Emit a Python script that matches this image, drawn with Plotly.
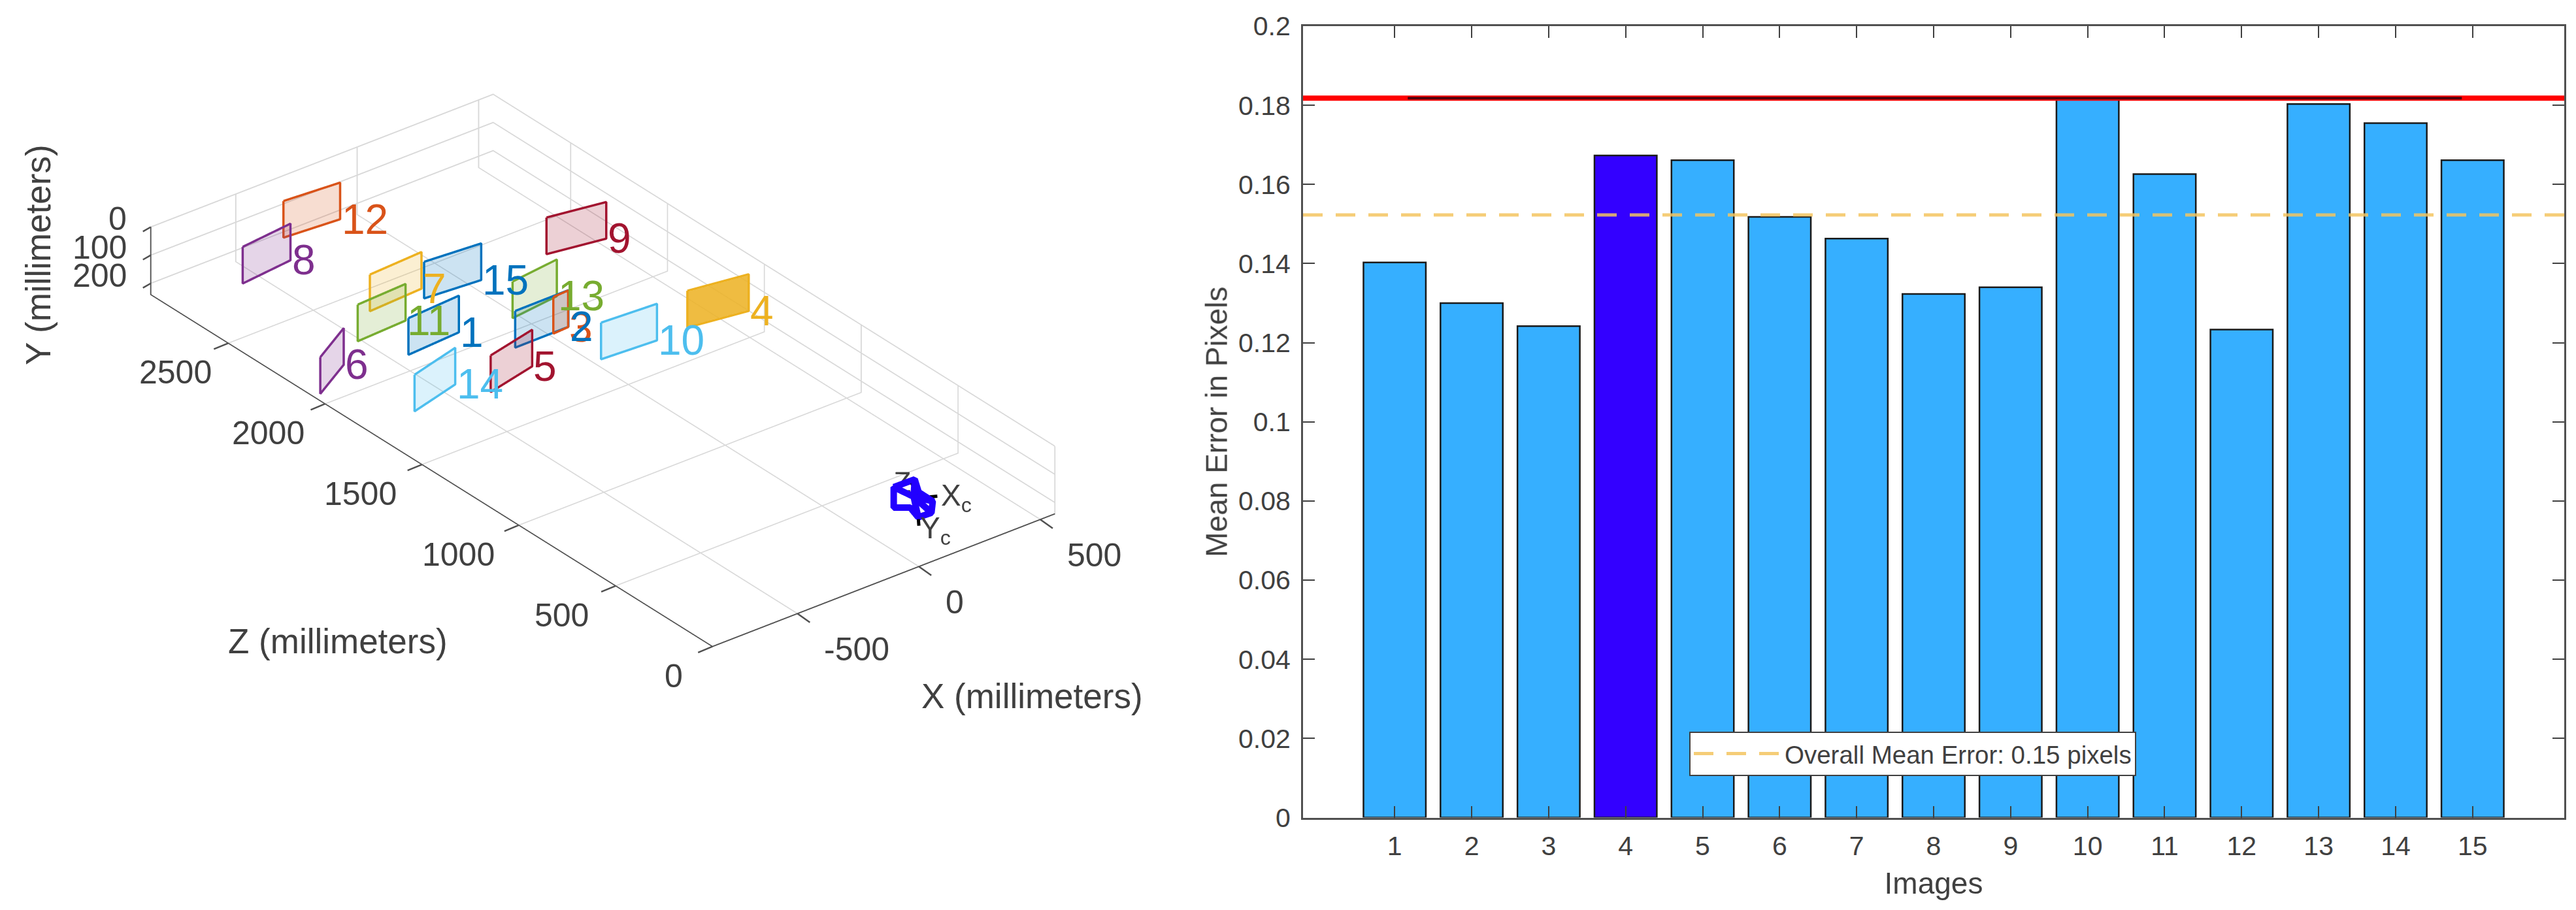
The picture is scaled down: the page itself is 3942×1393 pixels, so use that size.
import plotly.graph_objects as go

# ---------- right panel data ----------
images = list(range(1, 16))
mean_errors = [.1403, .1300, .1242, .1673, .1661, .1518, .1463, .1323, .1340, .1818, .1626, .1233, .1803, .1755, .1661]
overall_mean = 0.1523
selected_line = 0.1818
bar_colors = ["#36AFFF"] * 15
bar_colors[3] = "#3300FF"

# ---------- left panel data (mm) ----------
x_left = [-558, -257, -103, 263, -500, -849, -479, -690, 202, -86, -632, -400, -144, -772, -289]
z_left = [1936, 1762, 1758, 1525, 1584, 2026, 2234, 2626, 2176, 1533, 2105, 2779, 1917, 1636, 2192]
x_right = [-338, -37, -39, 486, -290, -671, -256, -474, 417, 133, -426, -181, 58, -559, -69]
z_right = [1951, 1763, 1762, 1488, 1633, 2128, 2247, 2650, 2137, 1519, 2116, 2761, 1942, 1693, 2173]
y_top = [6, 6, 6, 6, 6, 86, 6, 6, 6, 6, 6, 6, 6, 6, 6]
board_height = 130
board_colors = ["#0072BD", "#0072BD", "#D95319", "#EDB120", "#A2142F", "#7E2F8E", "#EDB120", "#7E2F8E",
                "#A2142F", "#4DBEEE", "#77AC30", "#D95319", "#77AC30", "#4DBEEE", "#0072BD"]
board_alpha = [.2, .2, .2, .85, .2, .2, .2, .2, .2, .2, .2, .2, .2, .2, .2]
label_order = [0, 2, 1, 3, 4, 5, 6, 7, 8, 9, 10, 11, 12, 13, 14]

cam_x = [98, 183, 141, 140, 90, 38, 57, 15, 98, 110, 90, 38, 110, 140, 110, 183]
cam_z = [253, 251, 178, 104, 48, 51, 116, 149, 253, 165, 48, 51, 165, 104, 165, 251]
cam_y = 100
axis_x = [118, 178, None, 118, 11, None, 118, 180]
axis_z = [159, 128, None, 159, 14, None, 159, 269]

x_range = [-850, 560]
z_range = [0, 2900]
y_range = [240, 0]
x_ticks = [-500, 0, 500]
z_ticks = [0, 500, 1000, 1500, 2000, 2500]
z_tick_dx = [-59, -83, -92, -94, -87, -81]
y_ticks = [0, 100, 200]

TXT = "#404040"
AXC = "#505050"
FONT = "Liberation Sans"
PAGE = 8  # default page margin of the written html


def fx(p):
    return (p - PAGE) / 3942


def fy(p):
    return 1 - (p - PAGE) / 1393


fig = go.Figure()

annots = []
for i in range(15):
    xs = [x_left[i], x_right[i], x_right[i], x_left[i]]
    zs = [z_left[i], z_right[i], z_right[i], z_left[i]]
    ys = [y_top[i], y_top[i], y_top[i] + board_height, y_top[i] + board_height]
    fig.add_trace(go.Mesh3d(x=xs, y=zs, z=ys, i=[0, 0], j=[1, 2], k=[2, 3], color=board_colors[i],
                            opacity=board_alpha[i], flatshading=True, showscale=False, hoverinfo="skip",
                            lighting=dict(ambient=1, diffuse=0, specular=0, roughness=1, fresnel=0)))
    fig.add_trace(go.Scatter3d(x=xs + xs[:1], y=zs + zs[:1], z=ys + ys[:1], mode="lines", showlegend=False,
                               line=dict(color=board_colors[i], width=7), hoverinfo="skip"))
for i in label_order:
    annots.append(dict(x=x_right[i], y=z_right[i], z=y_top[i] + board_height, text=str(i + 1), showarrow=False,
                       xanchor="left", yanchor="middle", font=dict(size=64, color=board_colors[i], family=FONT)))

fig.add_trace(go.Scatter3d(x=[171], y=[272], z=[130], mode="text", text=["Z<sub>c</sub>"], showlegend=False,
                           textposition="middle center", textfont=dict(size=44, color=TXT, family=FONT), hoverinfo="skip"))
fig.add_trace(go.Scatter3d(x=axis_x, y=axis_z, z=[cam_y + 5 if v is not None else None for v in axis_x], mode="lines",
                           line=dict(color="black", width=10), showlegend=False, hoverinfo="skip"))
fig.add_trace(go.Scatter3d(x=cam_x, y=cam_z, z=[cam_y] * len(cam_x), mode="lines",
                           line=dict(color="#2200FF", width=20), showlegend=False, hoverinfo="skip"))
for txt, xx, zz, xs_, ys_ in [("X<sub>c</sub>", 152, 128, 13, 0), ("Y<sub>c</sub>", -15, 14, 10, -5)]:
    annots.append(dict(x=xx, y=zz, z=cam_y, text=txt, showarrow=False, xanchor="left", yanchor="middle",
                       xshift=xs_, yshift=ys_, font=dict(size=46, color=TXT, family=FONT)))

TF = dict(size=50, color=TXT, family=FONT)
TICK = dict(text=" ", showarrow=True, arrowhead=0, arrowwidth=2.5, arrowcolor=AXC, standoff=0, startstandoff=0,
            font=dict(size=2))
for v in x_ticks:
    annots.append(dict(x=v, y=0, z=240, text=str(v), showarrow=False, xanchor="left", yanchor="middle",
                       xshift=39, yshift=-55, font=TF))
    annots.append(dict(TICK, x=v, y=0, z=240, ax=21, ay=15))
for v, dx in zip(z_ticks, z_tick_dx):
    annots.append(dict(x=-850, y=v, z=240, text=str(v), showarrow=False, xanchor="center", yanchor="middle",
                       xshift=dx, yshift=-45, font=TF))
    annots.append(dict(TICK, x=-850, y=v, z=240, ax=-24, ay=10))
for v in y_ticks:
    annots.append(dict(x=-850, y=2900, z=v, text=str(v), showarrow=False, xanchor="right", yanchor="middle",
                       xshift=-35, yshift=12, font=TF))
    annots.append(dict(TICK, x=-850, y=2900, z=v, ax=-14, ay=8))

ax3 = dict(showbackground=False, showline=True, linecolor=AXC, linewidth=4, ticks="",
           showticklabels=False, gridcolor="#D8D8D8", gridwidth=4,
           zeroline=False, showspikes=False, title=dict(text=""), tickmode="array")

fig.add_trace(go.Bar(x=images, y=mean_errors, width=0.81, marker=dict(color=bar_colors, line=dict(color="#1a1a1a", width=2.5)),
                     showlegend=False, xaxis="x", yaxis="y"))
fig.add_trace(go.Scatter(x=[-0.19, 16.19], y=[selected_line] * 2, mode="lines", line=dict(color="#FF0000", width=8),
                         showlegend=False, xaxis="x", yaxis="y"))
fig.add_trace(go.Scatter(x=[1.17, 14.86], y=[selected_line] * 2, mode="lines", line=dict(color="#50000A", width=4),
                         showlegend=False, xaxis="x", yaxis="y"))
fig.add_trace(go.Scatter(x=[-0.19, 16.19], y=[overall_mean] * 2, mode="lines", name="Overall Mean Error: 0.15 pixels",
                         line=dict(color="rgba(243,196,95,0.85)", width=5, dash="30px,20px"), xaxis="x", yaxis="y"))

paper_annots = [
    dict(text="Y (millimeters)", x=fx(58), y=fy(390), textangle=-90),
    dict(text="Z (millimeters)", x=fx(517), y=fy(981), textangle=0),
    dict(text="X (millimeters)", x=fx(1579), y=fy(1065), textangle=0),
]
for a in paper_annots:
    a.update(xref="paper", yref="paper", showarrow=False, xanchor="center", yanchor="middle",
             font=dict(size=53, color=TXT, family=FONT))

e = 2.0
k = 1.759
fig.update_layout(
    template="none",
    width=3942, height=1393, autosize=False, margin=dict(l=0, r=0, t=0, b=0, autoexpand=False),
    paper_bgcolor="white", plot_bgcolor="white", font=dict(family=FONT, color=TXT),
    scene=dict(
        domain=dict(x=[fx(8), fx(1837)], y=[fy(1126), fy(8)]),
        aspectmode="manual", aspectratio=dict(x=0.678 * k, y=1.414 * k, z=0.121 * k),
        camera=dict(projection=dict(type="orthographic"), up=dict(x=0, y=0, z=1), center=dict(x=0, y=0, z=0),
                    eye=dict(x=-0.538 * e, y=-0.684 * e, z=0.493 * e)),
        xaxis=dict(ax3, range=x_range, tickvals=x_ticks),
        yaxis=dict(ax3, range=z_range, tickvals=z_ticks),
        zaxis=dict(ax3, range=y_range, tickvals=y_ticks),
        annotations=annots,
    ),
    annotations=paper_annots,
    xaxis=dict(domain=[fx(1994), fx(3924)], range=[-0.19, 16.19], tickvals=images, ticks="inside", ticklen=18,
               tickwidth=2, tickcolor="#404040", mirror="ticks", showline=True, linecolor=AXC, linewidth=3,
               showgrid=False, zeroline=False, layer="above traces", tickfont=dict(size=41, color=TXT), automargin=False,
               ticklabelstandoff=5, title=dict(text="Images", font=dict(size=46, color=TXT), standoff=20), anchor="y"),
    yaxis=dict(domain=[fy(1251.5), fy(40)], range=[0, 0.2], tickvals=[i * 0.02 for i in range(11)],
               ticktext=["0", "0.02", "0.04", "0.06", "0.08", "0.1", "0.12", "0.14", "0.16", "0.18", "0.2"],
               ticks="inside", ticklen=18, tickwidth=2, tickcolor="#404040", mirror="ticks", showline=True,
               linecolor=AXC, linewidth=3, showgrid=False, zeroline=False, layer="above traces", automargin=False,
               ticklabelstandoff=8, tickfont=dict(size=41, color=TXT),
               title=dict(text="Mean Error in Pixels", font=dict(size=46, color=TXT), standoff=3), anchor="x"),
    legend=dict(x=fx(2585), y=fy(1120), xanchor="left", yanchor="top", bgcolor="white", bordercolor="#404040",
                borderwidth=2, font=dict(size=38.5, color=TXT), itemwidth=134),
    showlegend=True,
)
fig.write_html("out.html")
